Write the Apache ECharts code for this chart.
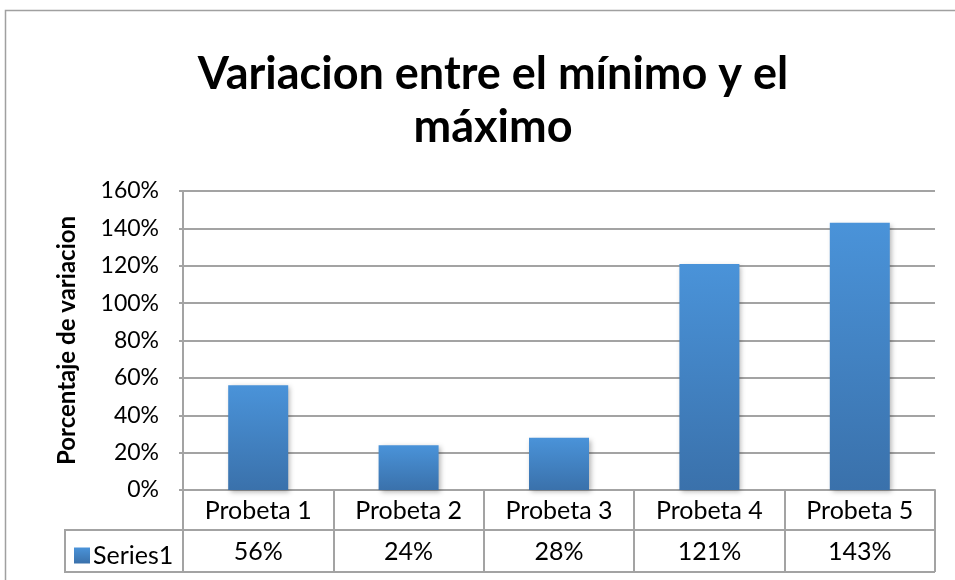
<!DOCTYPE html>
<html>
<head>
<meta charset="utf-8">
<script src="https://cdn.jsdelivr.net/npm/echarts@6/dist/echarts.min.js"></script>
<style>
  html, body { margin: 0; padding: 0; background: #fff; }
  #chart { width: 955px; height: 580px; }
</style>
</head>
<body>
<div id="chart"></div>
<script>
// Chart data
var titleText = 'Variacion entre el mínimo y el\nmáximo';
var categories = ['Probeta 1', 'Probeta 2', 'Probeta 3', 'Probeta 4', 'Probeta 5'];
var seriesName = 'Series1';
var values = [0.56, 0.24, 0.28, 1.21, 1.43];
var yTicks = { min: 0, max: 1.6, interval: 0.2 };
var axisName = 'Porcentaje de variacion';

function pct(v) { return Math.round(v * 100) + '%'; }

var gridColor = '#a3a3a3';
var font = 'Lato, "Open Sans", sans-serif';

var chart = echarts.init(document.getElementById('chart'), null, { renderer: 'canvas' });

chart.setOption({
  backgroundColor: '#ffffff',
  animation: false,
  title: {
    text: titleText,
    left: 488,
    top: 43,
    textAlign: 'center',
    textStyle: {
      fontFamily: font,
      fontWeight: 'bold',
      fontSize: 45,
      lineHeight: 53,
      color: '#000'
    }
  },
  legend: {
    data: [seriesName],
    left: 69,
    top: 538,
    icon: 'rect',
    itemWidth: 16,
    itemHeight: 16,
    itemGap: 6,
    textStyle: { fontFamily: font, fontSize: 25, color: '#000', padding: [0, 0, 0, -2] }
  },
  grid: { left: 183, right: 20, top: 191, bottom: 90, containLabel: false },
  xAxis: [
    {
      type: 'category',
      data: categories,
      position: 'bottom',
      axisLine: { show: true, lineStyle: { color: gridColor, width: 2 } },
      axisTick: { show: true, length: 40, alignWithLabel: false, lineStyle: { color: gridColor, width: 2 } },
      axisLabel: { fontFamily: font, fontSize: 25, color: '#000', margin: 8 },
      splitLine: { show: false }
    },
    {
      type: 'category',
      data: values.map(pct),
      position: 'bottom',
      offset: 40,
      axisLine: { show: true, lineStyle: { color: gridColor, width: 2 } },
      axisTick: { show: true, length: 42, alignWithLabel: false, lineStyle: { color: gridColor, width: 2 } },
      axisLabel: { fontFamily: font, fontSize: 25, color: '#000', margin: 9 },
      splitLine: { show: false }
    }
  ],
  yAxis: {
    type: 'value',
    min: yTicks.min,
    max: yTicks.max,
    interval: yTicks.interval,
    name: axisName,
    nameLocation: 'middle',
    nameRotate: 90,
    nameGap: 104,
    nameTextStyle: { fontFamily: font, fontWeight: 'bold', fontSize: 24, color: '#000' },
    axisLine: { show: true, lineStyle: { color: gridColor, width: 2 } },
    axisTick: { show: true, length: 4, lineStyle: { color: gridColor, width: 2 } },
    axisLabel: { fontFamily: font, fontSize: 23, color: '#000', margin: 24, formatter: pct },
    splitLine: { show: true, lineStyle: { color: gridColor, width: 2 } }
  },
  series: [{
    name: seriesName,
    type: 'bar',
    xAxisIndex: 0,
    data: values,
    barWidth: 60,
    itemStyle: {
      color: new echarts.graphic.LinearGradient(0, 0, 0, 1, [
        { offset: 0, color: '#4a93d9' },
        { offset: 1, color: '#3a71ab' }
      ]),
      shadowBlur: 5,
      shadowColor: 'rgba(0,0,0,0.3)',
      shadowOffsetX: 2,
      shadowOffsetY: 2
    }
  }],
  graphic: [
    // outer chart frame
    { type: 'rect', shape: { x: 5.5, y: 10.5, width: 1000, height: 700 },
      style: { fill: 'none', stroke: '#a0a0a0', lineWidth: 1.5 }, silent: true, z: 0 },
    // data table: legend cell borders
    { type: 'line', shape: { x1: 65, y1: 530, x2: 183, y2: 530 },
      style: { stroke: gridColor, lineWidth: 2 }, silent: true },
    { type: 'line', shape: { x1: 65, y1: 572, x2: 935, y2: 572 },
      style: { stroke: gridColor, lineWidth: 2 }, silent: true },
    { type: 'line', shape: { x1: 65, y1: 529, x2: 65, y2: 573 },
      style: { stroke: gridColor, lineWidth: 2 }, silent: true }
  ]
});
</script>
</body>
</html>
